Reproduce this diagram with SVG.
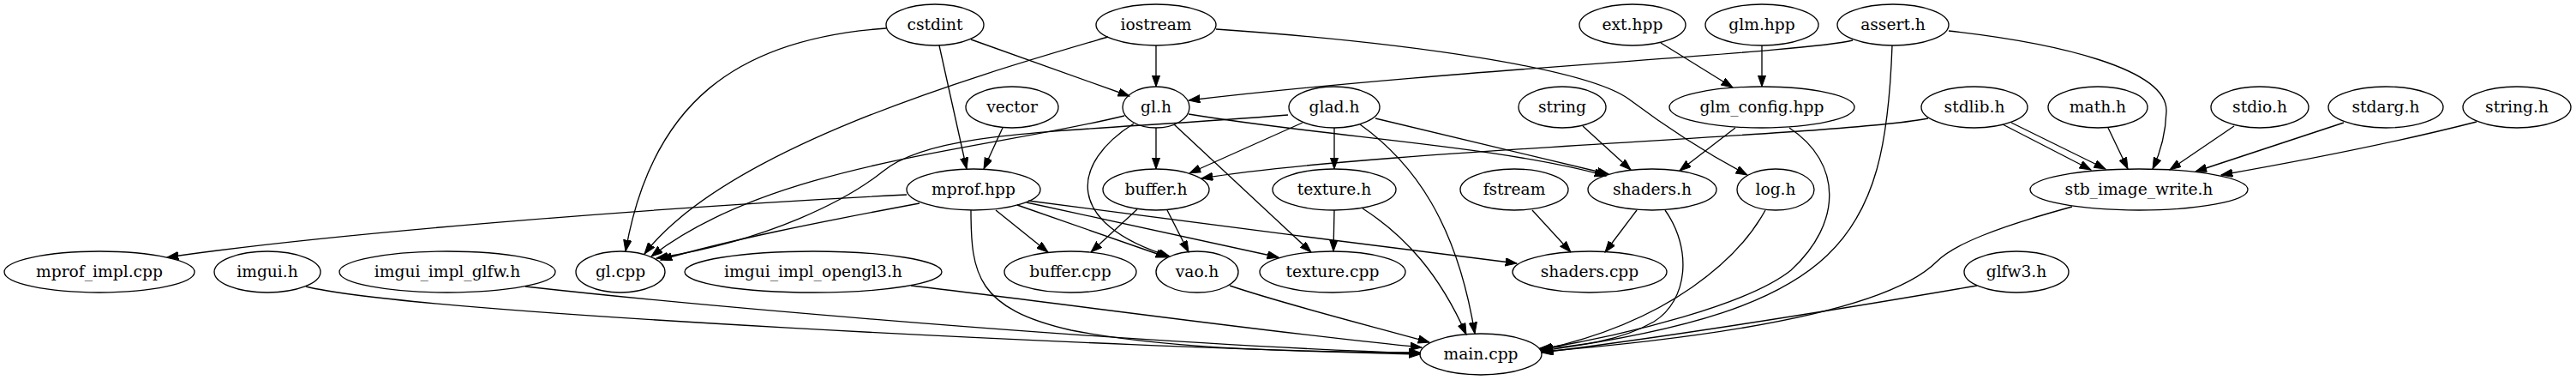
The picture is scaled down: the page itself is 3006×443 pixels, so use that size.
<svg xmlns="http://www.w3.org/2000/svg" width="3006" height="443" viewBox="0 0 3006 443">
<style>
.n ellipse{fill:none;stroke:#000;stroke-width:1.33}
.n text{font-family:"DejaVu Serif","Liberation Serif",serif;font-size:18.67px;text-anchor:middle;fill:#000}
.e path{fill:none;stroke:#000;stroke-width:1.33;marker-end:url(#ah)}
</style>
<defs>
<marker id="ah" markerWidth="14" markerHeight="10" refX="13.3" refY="4.67" orient="auto" markerUnits="userSpaceOnUse"><path d="M0,0 L13.3,4.67 L0,9.33 z" fill="#000" stroke="#000" stroke-width="1"/></marker>
</defs>
<rect width="3006" height="443" fill="#fff"/>
<g id="edges" class="e">
<path d="M1034,33 C860,45 760,120 730,293"/>
<path d="M1133,46 L1318,112"/>
<path d="M1096,53 L1128,197"/>
<path d="M1349,53 L1349,101"/>
<path d="M1293,43 C1150,85 850,170 752,296"/>
<path d="M1419,34 C1650,50 1850,80 1900,115 C1940,145 1990,178 2039,204"/>
<path d="M1170,149 L1148,197"/>
<path d="M1312,135 C1150,175 900,190 760,299"/>
<path d="M1349,149 L1349,197"/>
<path d="M1323,144 C1250,190 1240,260 1365,299"/>
<path d="M1370,145 L1530,294"/>
<path d="M1387,133 C1550,160 1750,170 1874,205"/>
<path d="M1503,134 C1250,155 1090,150 1030,200 C990,232 900,280 766,301"/>
<path d="M1520,143 L1388,202"/>
<path d="M1557,149 L1557,197"/>
<path d="M1605,138 L1877,203"/>
<path d="M1587,145 C1650,190 1700,260 1721,389"/>
<path d="M2162,47 C2100,62 1700,80 1387,117"/>
<path d="M2208,53 C2200,280 2150,360 1799,409"/>
<path d="M2274,36 C2400,50 2530,80 2528,130 C2527,160 2520,180 2512,197"/>
<path d="M1938,50 L2022,102"/>
<path d="M2056,53 L2056,101"/>
<path d="M2025,149 L1960,199"/>
<path d="M2088,149 C2150,190 2150,260 2090,315 C2040,355 1900,390 1798,407"/>
<path d="M1847,147 L1903,198"/>
<path d="M2250,138 C2150,158 1600,175 1402,208"/>
<path d="M2337,145 L2440,198"/>
<path d="M2347,143 L2457,197"/>
<path d="M2460,149 L2483,197"/>
<path d="M2607,147 L2532,198"/>
<path d="M2735,143 L2562,200"/>
<path d="M2890,142 C2800,165 2700,185 2592,204"/>
<path d="M1058,227 C800,240 400,270 195,300"/>
<path d="M1073,237 C950,260 850,280 771,303"/>
<path d="M1162,245 L1223,294"/>
<path d="M1187,239 L1362,300"/>
<path d="M1198,236 L1492,300"/>
<path d="M1200,234 C1350,255 1600,285 1770,307"/>
<path d="M1133,245 C1133,320 1140,360 1250,385 C1380,410 1550,410 1657,411"/>
<path d="M1327,244 L1273,294"/>
<path d="M1362,245 L1387,294"/>
<path d="M1557,245 L1556,293"/>
<path d="M1590,243 C1640,275 1680,320 1711,390"/>
<path d="M1788,245 L1833,294"/>
<path d="M1910,245 L1873,294"/>
<path d="M1943,245 C1975,290 1970,350 1930,375 C1890,398 1840,404 1797,406"/>
<path d="M2060,245 C2030,300 1950,375 1798,408"/>
<path d="M2418,241 C2330,265 2280,285 2260,305 C2220,345 2100,385 1799,410"/>
<path d="M2307,333 C2150,360 1950,392 1799,411"/>
<path d="M357,334 C480,365 1300,405 1657,413"/>
<path d="M613,334 C800,355 1300,400 1657,412"/>
<path d="M1063,333 C1250,355 1500,390 1659,405"/>
<path d="M1435,333 C1500,355 1600,380 1668,399"/>
</g>
<g id="cstdint" class="n"><ellipse cx="1091" cy="29" rx="57" ry="24"/><text x="1091" y="35">cstdint</text></g>
<g id="iostream" class="n"><ellipse cx="1349" cy="29" rx="70" ry="24"/><text x="1349" y="35">iostream</text></g>
<g id="ext_hpp" class="n"><ellipse cx="1905" cy="29" rx="62" ry="24"/><text x="1905" y="35">ext.hpp</text></g>
<g id="glm_hpp" class="n"><ellipse cx="2056" cy="29" rx="66" ry="24"/><text x="2056" y="35">glm.hpp</text></g>
<g id="assert_h" class="n"><ellipse cx="2209" cy="29" rx="65" ry="24"/><text x="2209" y="35">assert.h</text></g>
<g id="vector" class="n"><ellipse cx="1181" cy="125" rx="54" ry="24"/><text x="1181" y="131">vector</text></g>
<g id="gl_h" class="n"><ellipse cx="1349" cy="125" rx="39" ry="24"/><text x="1349" y="131">gl.h</text></g>
<g id="glad_h" class="n"><ellipse cx="1557" cy="125" rx="53" ry="24"/><text x="1557" y="131">glad.h</text></g>
<g id="string" class="n"><ellipse cx="1823" cy="125" rx="51" ry="24"/><text x="1823" y="131">string</text></g>
<g id="glm_config_hpp" class="n"><ellipse cx="2056" cy="125" rx="108" ry="24"/><text x="2056" y="131">glm_config.hpp</text></g>
<g id="stdlib_h" class="n"><ellipse cx="2304" cy="125" rx="62" ry="24"/><text x="2304" y="131">stdlib.h</text></g>
<g id="math_h" class="n"><ellipse cx="2448" cy="125" rx="58" ry="24"/><text x="2448" y="131">math.h</text></g>
<g id="stdio_h" class="n"><ellipse cx="2637" cy="125" rx="57" ry="24"/><text x="2637" y="131">stdio.h</text></g>
<g id="stdarg_h" class="n"><ellipse cx="2784" cy="125" rx="67" ry="24"/><text x="2784" y="131">stdarg.h</text></g>
<g id="string_h" class="n"><ellipse cx="2937" cy="125" rx="63" ry="24"/><text x="2937" y="131">string.h</text></g>
<g id="mprof_hpp" class="n"><ellipse cx="1136" cy="221" rx="78" ry="24"/><text x="1136" y="227">mprof.hpp</text></g>
<g id="buffer_h" class="n"><ellipse cx="1349" cy="221" rx="62" ry="24"/><text x="1349" y="227">buffer.h</text></g>
<g id="texture_h" class="n"><ellipse cx="1557" cy="221" rx="72" ry="24"/><text x="1557" y="227">texture.h</text></g>
<g id="fstream" class="n"><ellipse cx="1767" cy="221" rx="63" ry="24"/><text x="1767" y="227">fstream</text></g>
<g id="shaders_h" class="n"><ellipse cx="1928" cy="221" rx="75" ry="24"/><text x="1928" y="227">shaders.h</text></g>
<g id="log_h" class="n"><ellipse cx="2072" cy="221" rx="45" ry="24"/><text x="2072" y="227">log.h</text></g>
<g id="stb_image_write_h" class="n"><ellipse cx="2496" cy="221" rx="127" ry="24"/><text x="2496" y="227">stb_image_write.h</text></g>
<g id="mprof_impl_cpp" class="n"><ellipse cx="116" cy="317" rx="111" ry="24"/><text x="116" y="323">mprof_impl.cpp</text></g>
<g id="imgui_h" class="n"><ellipse cx="312" cy="317" rx="62" ry="24"/><text x="312" y="323">imgui.h</text></g>
<g id="imgui_impl_glfw_h" class="n"><ellipse cx="522" cy="317" rx="126" ry="24"/><text x="522" y="323">imgui_impl_glfw.h</text></g>
<g id="gl_cpp" class="n"><ellipse cx="724" cy="317" rx="52" ry="24"/><text x="724" y="323">gl.cpp</text></g>
<g id="imgui_impl_opengl3_h" class="n"><ellipse cx="949" cy="317" rx="150" ry="24"/><text x="949" y="323">imgui_impl_opengl3.h</text></g>
<g id="buffer_cpp" class="n"><ellipse cx="1249" cy="317" rx="77" ry="24"/><text x="1249" y="323">buffer.cpp</text></g>
<g id="vao_h" class="n"><ellipse cx="1397" cy="317" rx="48" ry="24"/><text x="1397" y="323">vao.h</text></g>
<g id="texture_cpp" class="n"><ellipse cx="1555" cy="317" rx="85" ry="24"/><text x="1555" y="323">texture.cpp</text></g>
<g id="shaders_cpp" class="n"><ellipse cx="1855" cy="317" rx="90" ry="24"/><text x="1855" y="323">shaders.cpp</text></g>
<g id="glfw3_h" class="n"><ellipse cx="2353" cy="317" rx="61" ry="24"/><text x="2353" y="323">glfw3.h</text></g>
<g id="main_cpp" class="n"><ellipse cx="1728" cy="413" rx="71" ry="24"/><text x="1728" y="419">main.cpp</text></g>
</svg>
